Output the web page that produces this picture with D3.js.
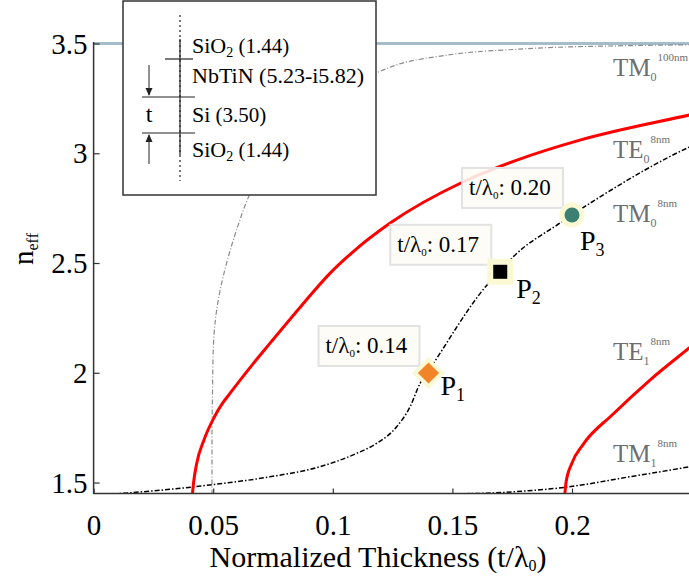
<!DOCTYPE html>
<html>
<head>
<meta charset="utf-8">
<script src="https://cdn.jsdelivr.net/npm/d3@7"></script>
<style>
  body { margin: 0; background: #fff; }
</style>
</head>
<body>
<div id="chart"></div>
<script>
var width = 689, height = 577;
var serif = "'Liberation Serif', 'Times New Roman', 'DejaVu Serif', serif";

// mode curves, [t/lambda0, n_eff]
var te0_8nm = [[0.0413,1.445],[0.0418,1.50],[0.0431,1.587],[0.0461,1.693],[0.0503,1.795],[0.0535,1.855],[0.0570,1.906],
  [0.0668,2.043],[0.0737,2.134],[0.0877,2.316],[0.0988,2.453],[0.1093,2.559],[0.124,2.682],[0.1544,2.869],
  [0.177,2.969],[0.2033,3.06],[0.249,3.174],[0.26,3.2]];
var te1_8nm = [[0.197,1.445],[0.1975,1.50],[0.1999,1.587],[0.2046,1.673],[0.217,1.810],[0.2326,1.967],[0.249,2.113],[0.26,2.21]];
var tm0_8nm = [[0.008,1.447],[0.0319,1.469],[0.0487,1.489],[0.0737,1.526],[0.0946,1.572],[0.110,1.633],
  [0.1183,1.678],[0.1267,1.754],[0.1323,1.845],[0.1365,1.952],[0.1398,2.005],[0.1645,2.40],[0.1696,2.46],
  [0.1753,2.527],[0.195,2.682],[0.2117,2.801],[0.249,3.028],[0.26,3.08]];
var tm1_8nm = [[0.12,1.446],[0.16,1.450],[0.18,1.461],[0.197,1.478],[0.224,1.526],[0.249,1.572],[0.26,1.595]];
var tm0_100nm = [[0.0495,1.445],[0.0495,1.70],[0.0497,1.90],[0.050,2.10],[0.0521,2.331],[0.0549,2.470],
  [0.0598,2.652],[0.065,2.806],[0.075,3.0],[0.09,3.18],[0.105,3.29],[0.1182,3.367],
  [0.1434,3.44],[0.171,3.47],[0.212,3.488],[0.26,3.496]];
var siLine = [[0,3.5],[0.26,3.5]];

// operating points
var markX = [0.14, 0.17, 0.20];
var markN = [1.999, 2.46, 2.719];
var markText = ["0.14", "0.17", "0.20"];
var markName = ["1", "2", "3"];

var xTicks = [0, 0.05, 0.1, 0.15, 0.2];
var yTicks = [1.5, 2, 2.5, 3, 3.5];

// mode labels: main, subscript, superscript, n_eff of baseline
var modeMain = ["TM", "TE", "TM", "TE", "TM"];
var modeSub = ["0", "0", "0", "1", "1"];
var modeSup = ["100nm", "8nm", "8nm", "8nm", "8nm"];
var modeN = [3.352, 2.978, 2.687, 2.058, 1.593];

var x = d3.scaleLinear().domain([0, 0.25]).range([93.6, 691.6]);
var y = d3.scaleLinear().domain([1.45, 3.5]).range([493.5, 43.5]);

var svg = d3.select("#chart").append("svg")
    .attr("width", width)
    .attr("height", height)
    .style("display", "block");

svg.append("clipPath").attr("id", "plot")
  .append("rect")
    .attr("x", 93).attr("y", 38)
    .attr("width", 600).attr("height", 456);

var line = d3.line()
    .x(function(d){ return x(d[0]); })
    .y(function(d){ return y(d[1]); })
    .curve(d3.curveMonotoneX);
var lineY = d3.line()
    .x(function(d){ return x(d[0]); })
    .y(function(d){ return y(d[1]); })
    .curve(d3.curveMonotoneY);

var curves = svg.append("g").attr("clip-path", "url(#plot)");

curves.append("path").attr("d", d3.line().x(function(d){ return x(d[0]); }).y(function(d){ return y(d[1]); })(siLine))
    .attr("fill", "none").attr("stroke", "#a3bdcc").attr("stroke-width", 3);

curves.append("path").attr("d", lineY(tm0_100nm))
    .attr("fill", "none").attr("stroke", "#8c8c8c").attr("stroke-width", 1.2)
    .attr("stroke-dasharray", "5,2,1,2");

[tm0_8nm, tm1_8nm].forEach(function(s){
  curves.append("path").attr("d", line(s))
      .attr("fill", "none").attr("stroke", "#000").attr("stroke-width", 1.5)
      .attr("stroke-dasharray", "5,2,1.5,2");
});

[te0_8nm, te1_8nm].forEach(function(s){
  curves.append("path").attr("d", line(s))
      .attr("fill", "none").attr("stroke", "#ff0000").attr("stroke-width", 3);
});

// axes
var xAxis = svg.append("g")
    .attr("transform", "translate(0," + y(1.45) + ")")
    .call(d3.axisBottom(x).tickValues(xTicks).tickSize(-5).tickSizeOuter(0)
      .tickFormat(function(d){ return String(d); }));
xAxis.select(".domain").attr("d", "M93.6,0H689").attr("stroke", "#333").attr("stroke-width", 1.5);
xAxis.selectAll(".tick line").attr("stroke", "#333").attr("stroke-width", 1.2);
xAxis.selectAll("text").attr("y", 41).attr("dy", null)
    .attr("font-size", 29).attr("fill", "#000");

var yAxis = svg.append("g")
    .attr("transform", "translate(" + x(0) + ",0)")
    .call(d3.axisLeft(y).tickValues(yTicks).tickSize(-6).tickSizeOuter(0).tickPadding(6)
      .tickFormat(function(d){ return String(d); }));
yAxis.select(".domain").attr("d", "M0,42V494").attr("stroke", "#333").attr("stroke-width", 1.5);
yAxis.selectAll(".tick line").attr("stroke", "#333").attr("stroke-width", 1.2);
yAxis.selectAll("text").attr("dy", "0.33em")
    .attr("font-size", 29).attr("fill", "#000");

var xTitle = svg.append("text")
    .attr("x", 378).attr("y", 567)
    .attr("text-anchor", "middle").attr("font-size", 30);
xTitle.append("tspan").text("Normalized Thickness (t/\u03bb");
xTitle.append("tspan").attr("font-size", 16).attr("dy", 4).text("0");
xTitle.append("tspan").attr("dy", -4).text(")");

var yTitle = svg.append("text")
    .attr("transform", "translate(33,249) rotate(-90)")
    .attr("text-anchor", "middle").attr("font-size", 29);
yTitle.append("tspan").text("n");
yTitle.append("tspan").attr("font-size", 16).attr("dy", 5).text("eff");

// mode labels
modeMain.forEach(function(m, i){
  var t = svg.append("text")
      .attr("x", x(0.2171)).attr("y", y(modeN[i]))
      .attr("fill", "#6e6e6e").attr("font-size", 25);
  t.append("tspan").text(m);
  t.append("tspan").attr("font-size", 12).attr("dy", 5).text(modeSub[i]);
  t.append("tspan").attr("font-size", 11).attr("dx", 1).attr("dy", -20).text(modeSup[i]);
});

// inset: layer stack
var inset = svg.append("g").attr("transform", "translate(123,1)");
inset.append("rect").attr("width", 253).attr("height", 194)
    .attr("fill", "#fff").attr("stroke", "#333").attr("stroke-width", 1.5);
inset.append("line").attr("x1", 57).attr("x2", 57).attr("y1", 14).attr("y2", 180)
    .attr("stroke", "#222").attr("stroke-width", 1.2).attr("stroke-dasharray", "2,3");
inset.append("line").attr("x1", 57).attr("x2", 57).attr("y1", 38).attr("y2", 154)
    .attr("stroke", "#222").attr("stroke-width", 1.2);
[[42, 70, 58], [19, 72, 96], [19, 72, 132]].forEach(function(l){
  inset.append("line").attr("x1", l[0]).attr("x2", l[1]).attr("y1", l[2]).attr("y2", l[2])
      .attr("stroke", "#222").attr("stroke-width", 1.2);
});
inset.append("line").attr("x1", 26).attr("x2", 26).attr("y1", 64).attr("y2", 94).attr("stroke", "#222");
inset.append("path").attr("d", "M22.5,87L26,95L29.5,87Z").attr("fill", "#222");
inset.append("line").attr("x1", 26).attr("x2", 26).attr("y1", 134).attr("y2", 163).attr("stroke", "#222");
inset.append("path").attr("d", "M22.5,141L26,133L29.5,141Z").attr("fill", "#222");
inset.append("text").attr("x", 26).attr("y", 121).attr("text-anchor", "middle")
    .attr("font-size", 24).text("t");

var layers = [["SiO", "2", " (1.44)", 52], ["NbTiN (5.23-i5.82)", "", "", 82], ["Si", "", " (3.50)", 121], ["SiO", "2", " (1.44)", 156]];
layers.forEach(function(l){
  var t = inset.append("text").attr("x", 69).attr("y", l[3]).attr("font-size", 22);
  t.append("tspan").text(l[0]);
  if (l[1]) {
    t.append("tspan").attr("font-size", 14).attr("dy", 4).text(l[1]);
    t.append("tspan").attr("dy", -4).attr("font-size", 21).text(l[2]);
  } else if (l[2]) {
    t.append("tspan").attr("font-size", 21).text(l[2]);
  }
});

// annotation boxes
markX.forEach(function(v, i){
  var mx = x(v), my = y(markN[i]);
  var g = svg.append("g").attr("transform", "translate(" + (mx - 110) + "," + (my - 47) + ")");
  g.append("rect").attr("width", 101).attr("height", 40)
      .attr("fill", "#fdfcf6").attr("fill-opacity", 0.88)
      .attr("stroke", "#e2e2e2").attr("stroke-width", 2);
  var t = g.append("text").attr("x", 7).attr("y", 27).attr("font-size", 23);
  t.append("tspan").text("t/\u03bb");
  t.append("tspan").attr("font-size", 11).attr("dy", 4).text("0");
  t.append("tspan").attr("dy", -4).text(": " + markText[i]);
});

// markers
var halo = "#fbf8d4";
var p1 = [x(markX[0]), y(markN[0])], p2 = [x(markX[1]), y(markN[1])], p3 = [x(markX[2]), y(markN[2])];
svg.append("path").attr("transform", "translate(" + p1 + ") rotate(45)")
    .attr("d", "M-11.5,-11.5H11.5V11.5H-11.5Z").attr("fill", halo);
svg.append("path").attr("transform", "translate(" + p1 + ") rotate(45)")
    .attr("d", "M-7.5,-7.5H7.5V7.5H-7.5Z").attr("fill", "#f08426");
svg.append("rect").attr("x", p2[0] - 13).attr("y", p2[1] - 13).attr("width", 26).attr("height", 26).attr("fill", halo);
svg.append("rect").attr("x", p2[0] - 7).attr("y", p2[1] - 7).attr("width", 14).attr("height", 14).attr("fill", "#000");
svg.append("circle").attr("cx", p3[0]).attr("cy", p3[1]).attr("r", 12.5).attr("fill", halo);
svg.append("circle").attr("cx", p3[0]).attr("cy", p3[1]).attr("r", 7.5).attr("fill", "#3b8071");

var pdx = [12, 16, 8], pdy = [22, 26, 35];
markName.forEach(function(n, i){
  var t = svg.append("text")
      .attr("x", x(markX[i]) + pdx[i]).attr("y", y(markN[i]) + pdy[i])
      .attr("font-size", 28);
  t.append("tspan").text("P");
  t.append("tspan").attr("font-size", 18).attr("dy", 6).text(n);
});

// every label in Times-like serif
svg.selectAll("text").style("font-family", serif);
</script>
</body>
</html>
